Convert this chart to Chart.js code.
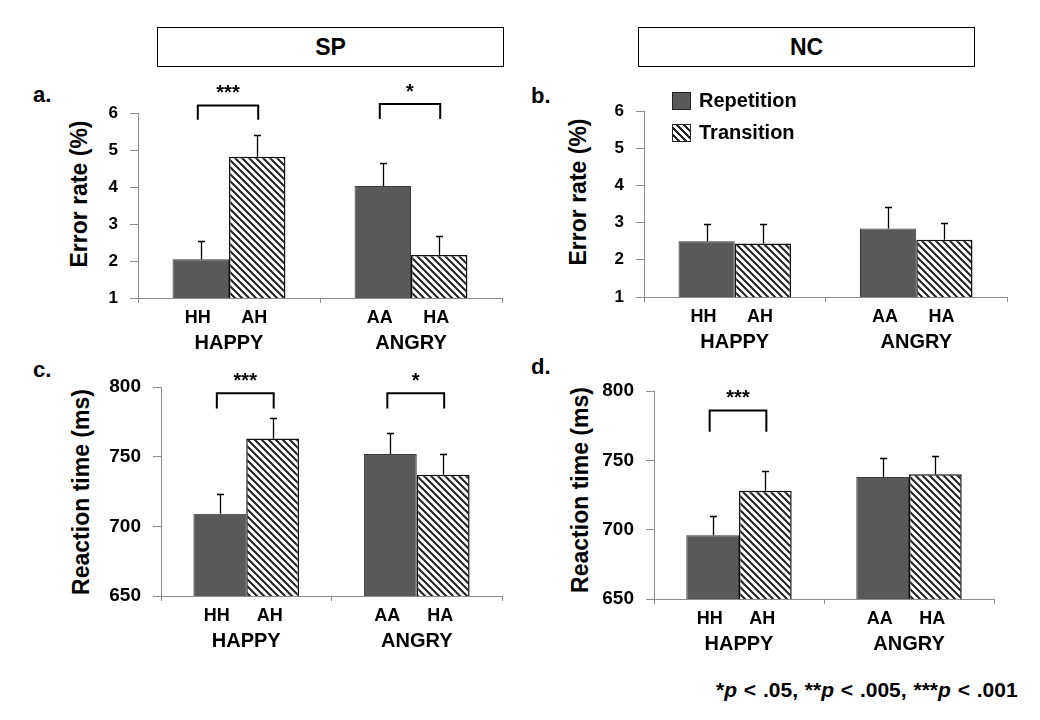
<!DOCTYPE html>
<html lang="en">
<head>
    <meta charset="UTF-8">
    <title>SP vs NC - Error rate and Reaction time</title>
    <script src="https://cdn.jsdelivr.net/npm/chart.js"></script>
    <style>
        body {
            margin: 0;
            width: 1040px;
            height: 720px;
            position: relative;
            overflow: hidden;
            background: #fff;
            font-family: "Liberation Sans", Arial, sans-serif;
            font-weight: bold;
            color: #000;
        }
        canvas { position: absolute; }
        .box {
            position: absolute;
            border: 1px solid #000;
            box-sizing: border-box;
            font-size: 23px;
            display: flex;
            align-items: center;
            justify-content: center;
        }
        .letter { position: absolute; font-size: 22px; line-height: 22px; }
        .ytitle {
            position: absolute;
            font-size: 23px;
            line-height: 23px;
            white-space: nowrap;
            transform: translate(-50%, -50%) rotate(-90deg);
        }
        .legend-row { position: absolute; display: flex; align-items: center; font-size: 20px; }
        .swatch { width: 19px; height: 18px; box-sizing: border-box; border: 1px solid #222; margin-right: 8px; }
        .footnote { position: absolute; font-size: 21px; word-spacing: 1px; white-space: nowrap; }
    </style>
</head>
<body>
    <!-- group titles -->
    <div class="box" style="left:157px; top:27px; width:347px; height:40px;">SP</div>
    <div class="box" style="left:638px; top:27px; width:337px; height:40px;">NC</div>

    <!-- panel letters -->
    <div class="letter" style="left:33px; top:84px;">a.</div>
    <div class="letter" style="left:531px; top:85px;">b.</div>
    <div class="letter" style="left:33px; top:359px;">c.</div>
    <div class="letter" style="left:531px; top:356px;">d.</div>

    <!-- y axis titles -->
    <div class="ytitle" style="left:79px; top:194px;">Error rate (%)</div>
    <div class="ytitle" style="left:578px; top:192px;">Error rate (%)</div>
    <div class="ytitle" style="left:81px; top:492px;">Reaction time (ms)</div>
    <div class="ytitle" style="left:580px; top:490px;">Reaction time (ms)</div>

    <canvas id="chartA" width="520" height="290" style="left:0; top:70px;"></canvas>
    <canvas id="chartB" width="520" height="290" style="left:520px; top:70px;"></canvas>
    <canvas id="chartC" width="520" height="300" style="left:0; top:360px;"></canvas>
    <canvas id="chartD" width="520" height="300" style="left:520px; top:360px;"></canvas>

    <!-- legend -->
    <div class="legend-row" style="left:672px; top:90px; height:21px;">
        <div class="swatch" style="background:#595959;"></div><span>Repetition</span>
    </div>
    <div class="legend-row" style="left:672px; top:122px; height:21px;">
        <div class="swatch" style="background:repeating-linear-gradient(45deg, #fff 0 3px, #222 3px 5px);"></div><span>Transition</span>
    </div>

    <div class="footnote" style="left:716px; top:678px;">*<i>p</i> &lt; .05, **<i>p</i> &lt; .005, ***<i>p</i> &lt; .001</div>

    <script>
        // categories
        const groups = ['HAPPY', 'ANGRY'];
        const conditions = [['HH', 'AH'], ['AA', 'HA']];
        const seriesNames = ['Repetition', 'Transition'];

        // y axis ranges [min, max, step]
        const errorAxis = [1, 6, 1];
        const rtAxis = [650, 800, 50];

        // a. SP error rate (%)
        const spErrRep = [2.05, 4.03];
        const spErrTrans = [4.82, 2.16];
        const spErrRepSE = [0.50, 0.62];
        const spErrTransSE = [0.58, 0.52];

        // b. NC error rate (%)
        const ncErrRep = [2.50, 2.84];
        const ncErrTrans = [2.44, 2.54];
        const ncErrRepSE = [0.45, 0.59];
        const ncErrTransSE = [0.53, 0.46];

        // c. SP reaction time (ms)
        const spRtRep = [709, 752];
        const spRtTrans = [763, 737];
        const spRtRepSE = [14, 15];
        const spRtTransSE = [15, 15];

        // d. NC reaction time (ms)
        const ncRtRep = [696, 738];
        const ncRtTrans = [728, 740];
        const ncRtRepSE = [14, 14];
        const ncRtTransSE = [14, 13];

        // significance brackets: group index, stars, bracket top / foot (axis units)
        const spErrSig = [[0, '***', 6.20, 5.82], [1, '*', 6.24, 5.84]];
        const ncErrSig = [];
        const spRtSig = [[0, '***', 795.5, 784.5], [1, '*', 795.5, 784.5]];
        const ncRtSig = [[0, '***', 786, 770.6]];

        // hatch pattern for Transition bars
        function hatch() {
            const p = 7;
            const c = document.createElement('canvas');
            c.width = p; c.height = p;
            const g = c.getContext('2d');
            g.fillStyle = '#fff';
            g.fillRect(0, 0, p, p);
            g.strokeStyle = '#222';
            g.lineWidth = 2;
            g.beginPath();
            for (let k = -1; k <= 1; k++) {
                g.moveTo(k * p - 1, -1);
                g.lineTo(k * p + p + 1, p + 1);
            }
            g.stroke();
            return g.createPattern(c, 'repeat');
        }

        // error bars, brackets and the two rows of x labels
        const annotate = {
            id: 'annotate',
            afterDatasetsDraw(chart, args, opts) {
                const ctx = chart.ctx;
                const y = chart.scales.y;
                const area = chart.chartArea;
                const m0 = chart.getDatasetMeta(0).data;
                const m1 = chart.getDatasetMeta(1).data;
                ctx.save();
                ctx.strokeStyle = '#000';
                ctx.lineWidth = 1.3;
                chart.data.datasets.forEach((ds, i) => {
                    chart.getDatasetMeta(i).data.forEach((bar, j) => {
                        const top = Math.round(y.getPixelForValue(ds.data[j] + ds.errors[j])) + 0.5;
                        const x = Math.round(bar.x) + 0.5;
                        ctx.beginPath();
                        ctx.moveTo(x, bar.y);
                        ctx.lineTo(x, top);
                        ctx.moveTo(x - 3.5, top);
                        ctx.lineTo(x + 3.5, top);
                        ctx.stroke();
                    });
                });

                ctx.lineWidth = 2;
                ctx.fillStyle = '#000';
                ctx.textAlign = 'center';
                ctx.textBaseline = 'middle';
                opts.sig.forEach(([g, stars, top, foot]) => {
                    const x1 = m0[g].x - 3, x2 = m1[g].x + 1;
                    const yt = y.getPixelForValue(top);
                    const yf = y.getPixelForValue(foot);
                    ctx.beginPath();
                    ctx.moveTo(x1, yf);
                    ctx.lineTo(x1, yt);
                    ctx.lineTo(x2, yt);
                    ctx.lineTo(x2, yf);
                    ctx.stroke();
                    ctx.font = 'bold 20px "Liberation Sans", Arial, sans-serif';
                    ctx.fillText(stars, (x1 + x2) / 2, yt - 12);
                });

                groups.forEach((name, g) => {
                    ctx.font = 'bold 18px "Liberation Sans", Arial, sans-serif';
                    ctx.fillText(conditions[g][0], m0[g].x - 3, area.bottom + 20);
                    ctx.fillText(conditions[g][1], m1[g].x - 3, area.bottom + 20);
                    ctx.font = 'bold 20px "Liberation Sans", Arial, sans-serif';
                    ctx.fillText(name, (m0[g].x + m1[g].x) / 2, area.bottom + 45);
                });
                ctx.restore();
            }
        };

        function makePanel(id, box, area, axis, rep, trans, repSE, transSE, sig, tickSize) {
            new Chart(document.getElementById(id), {
                type: 'bar',
                data: {
                    labels: groups,
                    datasets: [
                        { label: seriesNames[0], data: rep, errors: repSE,
                          backgroundColor: '#595959', borderColor: '#3a3a3a', borderWidth: 1 },
                        { label: seriesNames[1], data: trans, errors: transSE,
                          backgroundColor: hatch(), borderColor: '#111', borderWidth: 1.5 }
                    ]
                },
                options: {
                    responsive: false,
                    animation: false,
                    categoryPercentage: 0.62,
                    barPercentage: 1.0,
                    layout: {
                        padding: {
                            left: 0,
                            top: area[1] - box[1],
                            right: box[0] + box[2] - area[2],
                            bottom: 0
                        }
                    },
                    plugins: {
                        legend: { display: false },
                        tooltip: { enabled: false },
                        annotate: { sig: sig }
                    },
                    scales: {
                        x: {
                            afterFit: s => { s.height = box[1] + box[3] - area[3]; },
                            ticks: { display: false },
                            border: { color: '#8c8c8c', width: 1 },
                            grid: { offset: true, drawOnChartArea: false, drawTicks: true,
                                    tickLength: 5, color: '#8c8c8c' }
                        },
                        y: {
                            min: axis[0],
                            max: axis[1],
                            afterFit: s => { s.width = area[0] - box[0]; },
                            ticks: {
                                stepSize: axis[2],
                                padding: 12,
                                color: '#000',
                                font: { family: '"Liberation Sans", Arial, sans-serif', weight: 'bold', size: tickSize }
                            },
                            border: { color: '#8c8c8c', width: 1 },
                            grid: { drawOnChartArea: false, drawTicks: true, tickLength: 8, color: '#8c8c8c' }
                        }
                    }
                },
                plugins: [annotate]
            });
        }

        // box: canvas [left, top, width, height]; area: plot [left, top, right, bottom] in page px
        makePanel('chartA', [0, 70, 520, 290], [138, 113, 502, 298], errorAxis,
                  spErrRep, spErrTrans, spErrRepSE, spErrTransSE, spErrSig, 17);
        makePanel('chartB', [520, 70, 520, 290], [644, 111, 1007, 297], errorAxis,
                  ncErrRep, ncErrTrans, ncErrRepSE, ncErrTransSE, ncErrSig, 17);
        makePanel('chartC', [0, 360, 520, 300], [161, 387, 502, 596], rtAxis,
                  spRtRep, spRtTrans, spRtRepSE, spRtTransSE, spRtSig, 19);
        makePanel('chartD', [520, 360, 520, 300], [654, 391, 994, 599], rtAxis,
                  ncRtRep, ncRtTrans, ncRtRepSE, ncRtTransSE, ncRtSig, 19);
    </script>
</body>
</html>
